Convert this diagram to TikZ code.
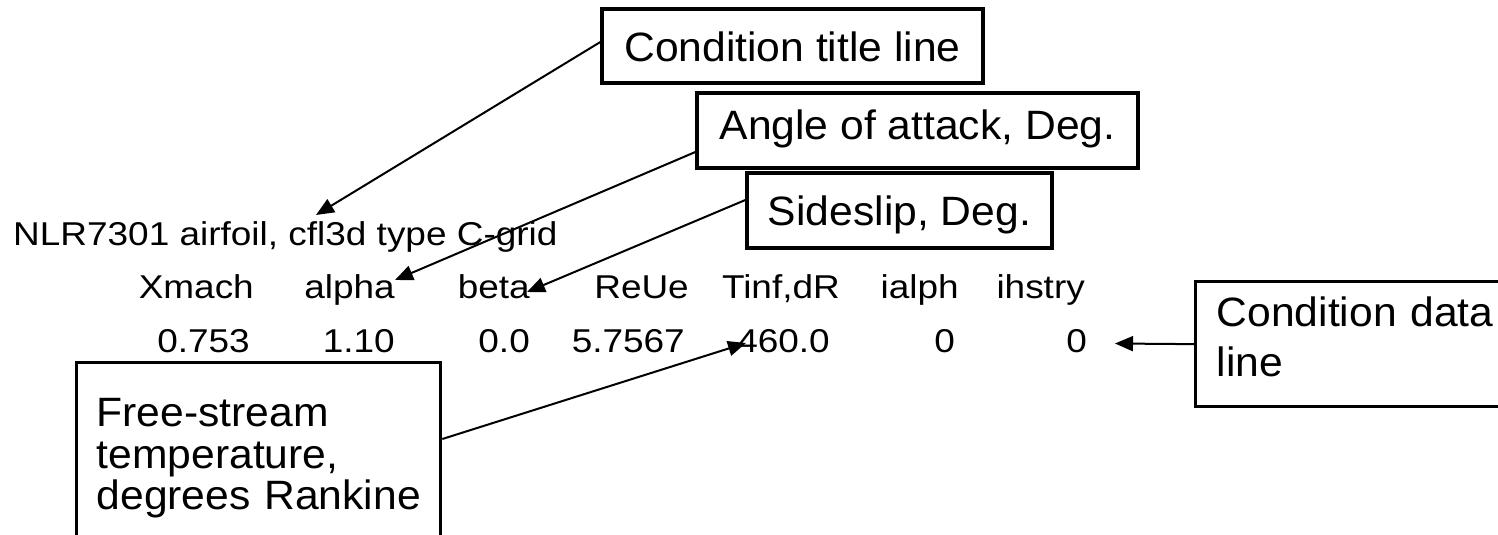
\documentclass[tikz,border=0pt]{standalone}
\usepackage{fontspec}
\setmainfont[FakeStretch=1.12]{Liberation Sans}
\newfontfamily\calloutfont[FakeStretch=1.04]{Liberation Sans}
\usetikzlibrary{arrows.meta}
\begin{document}
\begin{tikzpicture}[x=1pt,y=-1pt,
  listing/.style={inner sep=0pt, font=\fontsize{33}{40}\selectfont},
  callout/.style={draw, line width=3.3pt, inner sep=0pt, text height=30pt,
    text depth=0pt, font=\calloutfont\fontsize{41}{48}\selectfont},
  pointer/.style={line width=2pt, -{Triangle[length=18pt,width=15pt]}}]
\useasboundingbox (0,0) rectangle (1498,535);
\clip (0,0) rectangle (1498,535);

% input file lines
\node[listing, anchor=base west] (titleline) at (13,245) {NLR7301 airfoil, cfl3d type C-grid};

\node[listing, anchor=base east] (h1) at (254,298) {Xmach};
\node[listing, anchor=base east] (h2) at (395,298) {alpha};
\node[listing, anchor=base east] (h3) at (530,298) {beta};
\node[listing, anchor=base east] (h4) at (689,298) {ReUe};
\node[listing, anchor=base east] (h5) at (840,298) {Tinf,dR};
\node[listing, anchor=base east] (h6) at (959,298) {ialph};
\node[listing, anchor=base east] (h7) at (1085,298) {ihstry};

\node[listing, anchor=base east] (d1) at (250,352) {0.753};
\node[listing, anchor=base east] (d2) at (395,352) {1.10};
\node[listing, anchor=base east] (d3) at (530,352) {0.0};
\node[listing, anchor=base east] (d4) at (685,352) {5.7567};
\node[listing, anchor=base east] (d5) at (830,352) {460.0};
\node[listing, anchor=base east] (d6) at (955,352) {0};
\node[listing, anchor=base east] (d7) at (1087,352) {0};

% callout boxes
\node[callout, minimum width=381pt, minimum height=74pt] (ctitle) at (792.5,46) {Condition title line};
\node[callout, minimum width=441pt, minimum height=75pt, text depth=12pt] (cangle) at (917.5,130.5) {Angle of attack, Deg.};
\node[callout, minimum width=305pt, minimum height=75pt] (cslip) at (899.5,210.5) {Sideslip, Deg.};
\node[callout, anchor=north west, text width=380pt, align=left, inner xsep=21pt,
  inner ysep=15pt, text depth=65pt, font=\calloutfont\fontsize{41}{50}\selectfont]
  (cdata) at (1194,280) {\mbox{Condition data}\\\mbox{line}};
\node[callout, anchor=north west, text width=324pt, align=left, inner xsep=20pt,
  inner ysep=34pt, text depth=90pt, font=\calloutfont\fontsize{41}{41.5}\selectfont]
  (ctemp) at (75,361) {\mbox{Free-stream}\\\mbox{temperature,}\\\mbox{degrees Rankine}};

% arrow targets on the listing
\coordinate (tcfl) at (316,215);
\coordinate (talpha) at (395,280);
\coordinate (tbeta) at (527,292);
\coordinate (ttemp) at (746,343);
\coordinate (tdata) at (1115,343.5);

\draw[pointer] ([yshift=4pt]ctitle.west) -- (tcfl);
\draw[pointer] ([yshift=-21.5pt]cangle.west) -- (talpha);
\draw[pointer] ([yshift=10.5pt]cslip.west) -- (tbeta);
\draw[pointer] (ctemp.east |- 0,439) -- (ttemp);
\draw[pointer] (cdata.west) -- (tdata);
\end{tikzpicture}
\end{document}
